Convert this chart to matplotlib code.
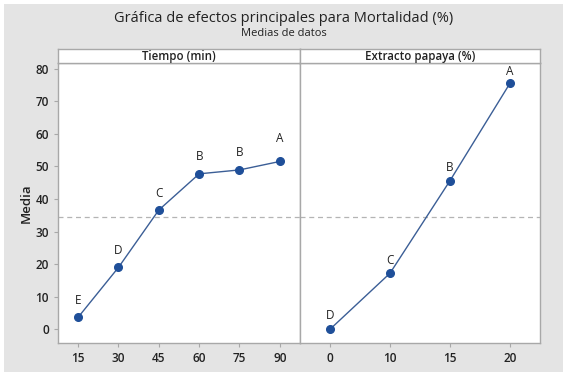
import matplotlib
matplotlib.use("Agg")
import matplotlib.pyplot as plt
from matplotlib.patches import Rectangle

plt.rcParams['font.family'] = ['Open Sans', 'DejaVu Sans']

tiempo_labels = ["15", "30", "45", "60", "75", "90"]
tiempo_means = [3.7, 19.0, 36.6, 47.7, 48.9, 51.5]
tiempo_groups = ["E", "D", "C", "B", "B", "A"]

papaya_labels = ["0", "10", "15", "20"]
papaya_means = [0.0, 17.2, 45.6, 75.5]
papaya_groups = ["D", "C", "B", "A"]

grand_mean = 34.6
y_ticks = [0, 10, 20, 30, 40, 50, 60, 70, 80]
panel_titles = ["Tiempo (min)", "Extracto papaya (%)"]

# letter offsets above points (in points), style only
tiempo_offsets = [12, 12.5, 12, 12.5, 12.5, 16.5]
papaya_offsets = [10, 9.5, 9.5, 8.3]

W, H = 567, 376
fig = plt.figure(figsize=(W / 100, H / 100), dpi=100)
fig.patch.set_facecolor("white")
fig.patches.append(Rectangle((4 / W, 4 / H), (563 - 4) / W, (372 - 4) / H,
                             transform=fig.transFigure, facecolor="#e4e4e4",
                             edgecolor="none", zorder=-10))

bottom = 1 - 343.3 / H
top = 1 - 62.7 / H
strip_top = 1 - 49 / H
panels = [(58, 300), (300, 540)]
spine_col = "#a8a8a8"
line_col = "#3b5e96"
mark_col = "#1f4f99"

data = [(tiempo_labels, tiempo_means, tiempo_groups, tiempo_offsets),
        (papaya_labels, papaya_means, papaya_groups, papaya_offsets)]

for i, ((x0, x1), (labels, means, groups, offs)) in enumerate(zip(panels, data)):
    ax = fig.add_axes([x0 / W, bottom, (x1 - x0) / W, top - bottom])
    xs = list(range(len(labels)))
    ax.plot(xs, means, color=line_col, lw=1.0, marker="o", ms=5.5,
            mfc=mark_col, mec=mark_col, zorder=3)
    for x, y, g, o in zip(xs, means, groups, offs):
        ax.annotate(g, (x, y), xytext=(0, o), textcoords="offset points",
                    ha="center", va="center", fontsize=8.5, color="#222222")
    ax.axhline(grand_mean, color="#b4b4b4", ls=(0, (4, 3)), lw=0.9, zorder=1)
    ax.set_xlim(-0.5, len(labels) - 0.5)
    ax.set_ylim(-4.3, 81.8)
    ax.set_xticks(xs)
    ax.set_xticklabels(labels)
    ax.set_yticks(y_ticks)
    ax.set_facecolor("white")
    for s in ax.spines.values():
        s.set_color(spine_col)
        s.set_linewidth(1.0)
    ax.tick_params(axis="both", colors=spine_col, length=3, width=0.8,
                   labelcolor="#222222", labelsize=8.5)
    for lab in ax.get_xticklabels() + ax.get_yticklabels():
        lab.set_fontweight("semibold")
    if i == 0:
        ax.set_yticklabels([str(v) for v in y_ticks])
        for lab in ax.get_yticklabels():
            lab.set_fontweight("semibold")
        ax.set_ylabel("Media", fontsize=9.5, color="#222222", fontweight="semibold",
                      labelpad=2)
    else:
        ax.tick_params(axis="y", left=False, labelleft=False)
    sax = fig.add_axes([x0 / W, top, (x1 - x0) / W, strip_top - top])
    sax.set_xticks([])
    sax.set_yticks([])
    sax.set_facecolor("white")
    for s in sax.spines.values():
        s.set_color(spine_col)
        s.set_linewidth(1.0)
    sax.text(0.5, 0.45, panel_titles[i], ha="center", va="center",
             fontsize=8.3, fontweight="semibold", color="#222222",
             transform=sax.transAxes)

fig.text(0.5, 1 - 18 / H, "Gráfica de efectos principales para Mortalidad (%)",
         ha="center", va="center", fontsize=10.5, color="#222222",
         fontweight="medium")
fig.text(0.5, 1 - 33.5 / H, "Medias de datos", ha="center", va="center",
         fontsize=8.0, color="#222222")

fig.savefig("out.png", dpi=100, facecolor=fig.get_facecolor())
